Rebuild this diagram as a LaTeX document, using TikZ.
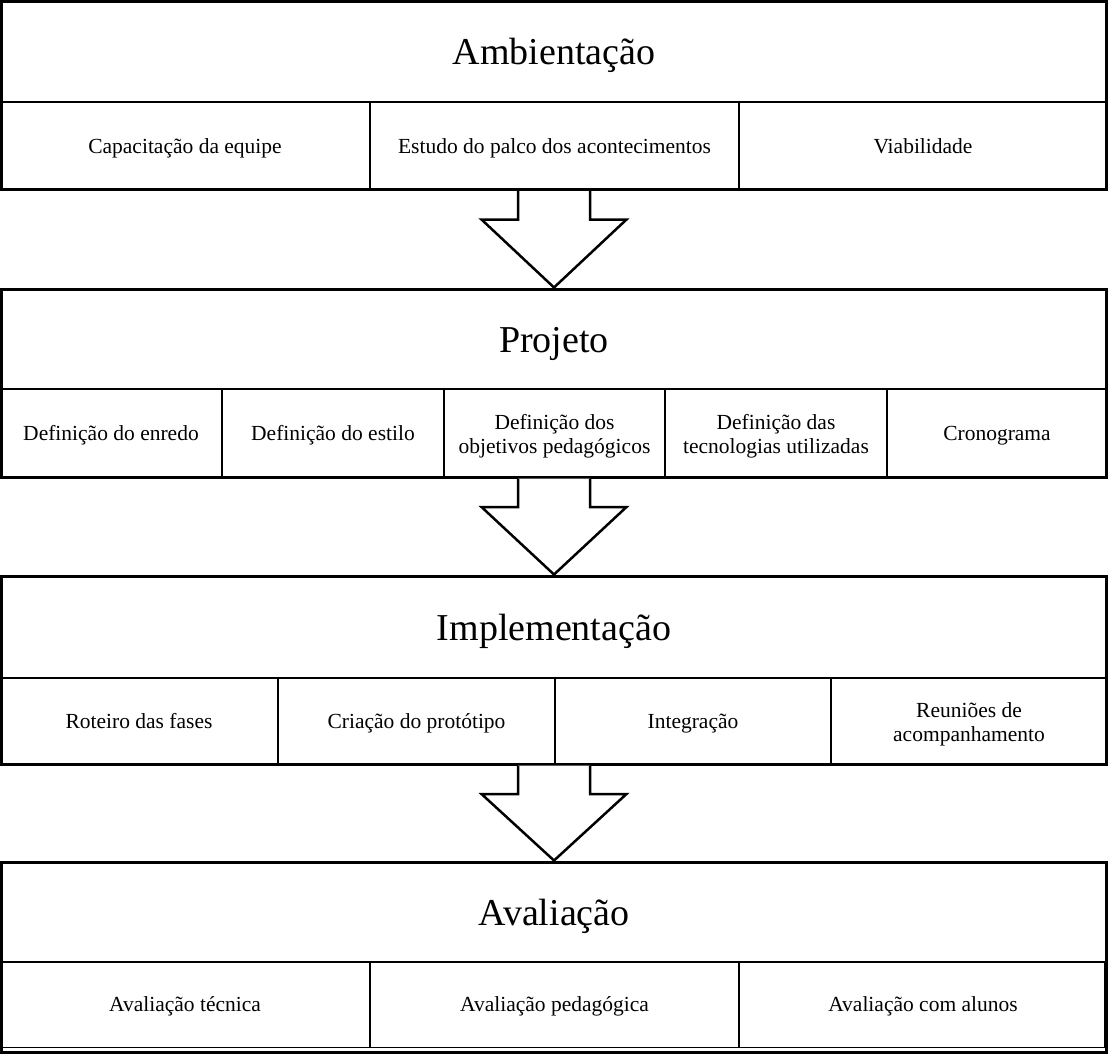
\documentclass[tikz,border=0pt]{standalone}
\usepackage{fontspec}
\setmainfont{Liberation Serif}
\usetikzlibrary{calc}
\begin{document}
\begin{tikzpicture}[x=1pt,y=-1pt,
  blockframe/.style={draw,line width=3pt,inner sep=0pt,minimum width=1105pt,minimum height=188pt},
  titletext/.style={font=\fontsize{38}{42}\selectfont,inner sep=0pt,anchor=base},
  celltext/.style={font=\fontsize{21.5}{24}\selectfont,align=center,inner sep=0pt,anchor=base},
  twoline/.style={font=\fontsize{21.5}{24}\selectfont,align=center,inner sep=0pt},
  hrule/.style={line width=2.2pt},
  vrule/.style={line width=1.6pt},
  bigarrow/.style={line width=2.5pt,line join=miter,fill=white}]
\useasboundingbox (0,0) rectangle (1110,1054);

% Block 1
\node[blockframe] (b1) at (554,95.5) {};
\draw[hrule] (1.5,102) -- (1106.5,102);
\draw[vrule] (370,102) -- (370,189.5);
\draw[vrule] (739,102) -- (739,189.5);
\node[titletext] (t1) at (554,64.5) {Ambientação};
\node[celltext] (c11) at (185,153) {Capacitação da equipe};
\node[celltext] (c12) at (554.5,153) {Estudo do palco dos acontecimentos};
\node[celltext] (c13) at (923,153) {Viabilidade};

% Block 2
\node[blockframe] (b2) at (554,383) {};
\draw[hrule] (1.5,389) -- (1106.5,389);
\foreach \x in {222,444,665,887} \draw[vrule] (\x,389) -- (\x,477);
\node[titletext] (t2) at (554,352) {Projeto};
\node[celltext] (c21) at (111,440) {Definição do enredo};
\node[celltext] (c22) at (333,440) {Definição do estilo};
\node[twoline] (c23) at (554.5,436) {Definição dos\\objetivos pedagógicos};
\node[twoline] (c24) at (776,436) {Definição das\\tecnologias utilizadas};
\node[celltext] (c25) at (997,440) {Cronograma};

% Block 3
\node[blockframe] (b3) at (554,670) {};
\draw[hrule] (1.5,678) -- (1106.5,678);
\foreach \x in {278,555,831} \draw[vrule] (\x,678) -- (\x,764);
\node[titletext] (t3) at (554,640) {Implementação};
\node[celltext] (c31) at (139,728) {Roteiro das fases};
\node[celltext] (c32) at (416.5,728) {Criação do protótipo};
\node[celltext] (c33) at (693,728) {Integração};
\node[twoline] (c34) at (969,724) {Reuniões de\\acompanhamento};

% Block 4
\node[blockframe,minimum height=190pt] (b4) at (554,957) {};
\draw[hrule] (1.5,962) -- (1106.5,962);
\draw[vrule] (1.5,1047.5) -- (1104.5,1047.5) -- (1104.5,962);
\draw[vrule] (370,962) -- (370,1047.5);
\draw[vrule] (739,962) -- (739,1047.5);
\node[titletext] (t4) at (554,925) {Avaliação};
\node[celltext] (c41) at (185,1011) {Avaliação técnica};
\node[celltext] (c42) at (554.5,1011) {Avaliação pedagógica};
\node[celltext] (c43) at (923,1011) {Avaliação com alunos};

% Arrows
\foreach \a/\b in {b1/b2,b2/b3,b3/b4}{
  \draw[bigarrow] ($(\a.south)+(-36,0)$) -- ($(\a.south)+(-36,28.5)$)
    -- ($(\a.south)+(-72.5,28.5)$) -- (\b.north)
    -- ($(\a.south)+(72.5,28.5)$) -- ($(\a.south)+(36,28.5)$)
    -- ($(\a.south)+(36,0)$);
}
\end{tikzpicture}
\end{document}
